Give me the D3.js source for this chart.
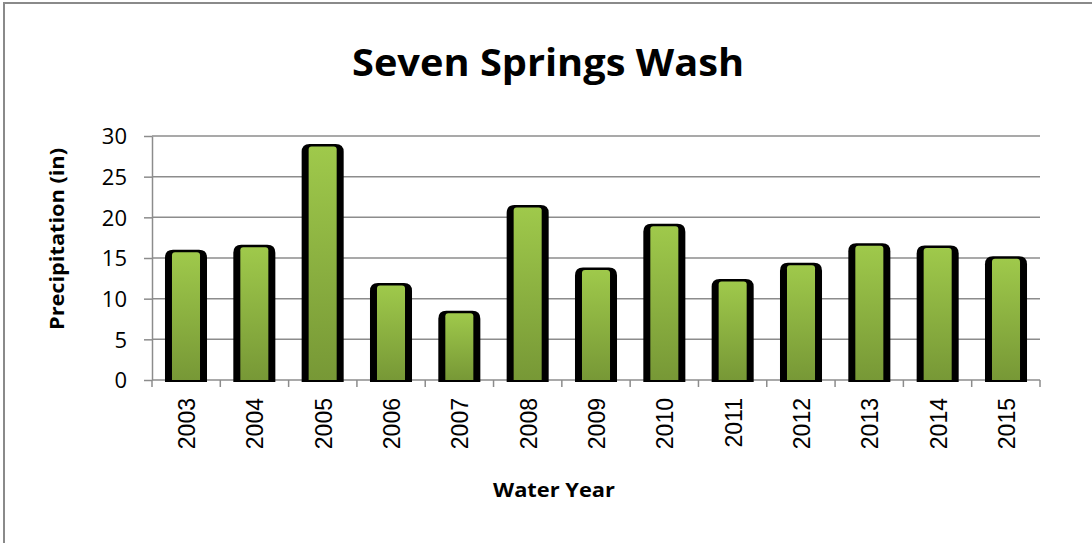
<!DOCTYPE html>
<html>
<head>
<meta charset="utf-8">
<script src="https://cdn.jsdelivr.net/npm/d3@7"></script>
<style>
  body { margin: 0; background: #fff; }
  .y-axis text { font-family: 'Open Sans', sans-serif; font-size: 22px; fill: #000; }
  .x-axis text { font-family: 'Liberation Sans', Arial, sans-serif; font-size: 23px; fill: #000; }
  .axis path, .axis line { stroke: #8c8c8c; stroke-width: 1.5; }
  .grid line { stroke: #8c8c8c; stroke-width: 1.5; }
</style>
</head>
<body>
<svg id="chart"></svg>
<script>
// Water years and precipitation (inches)
const years = ['2003', '2004', '2005', '2006', '2007', '2008', '2009',
               '2010', '2011', '2012', '2013', '2014', '2015'];
const precip = [15.9, 16.5, 28.9, 11.8, 8.4, 21.4, 13.7, 19.1, 12.3, 14.3, 16.7, 16.4, 15.1];
const yTicks = [0, 5, 10, 15, 20, 25, 30];

const data = years.map((y, i) => ({ year: y, value: precip[i] }));

const containerWidth = 1092, containerHeight = 543;
const margin = { top: 136, right: 52, bottom: 163, left: 152 };
const width = containerWidth - margin.left - margin.right;
const height = containerHeight - margin.top - margin.bottom;

const svg = d3.select('#chart')
    .attr('width', containerWidth)
    .attr('height', containerHeight);

// outer chart border (only top/left visible in the crop)
svg.append('rect')
    .attr('x', 4).attr('y', 3)
    .attr('width', containerWidth + 10).attr('height', containerHeight + 10)
    .attr('fill', 'none')
    .attr('stroke', '#8a8a8a')
    .attr('stroke-width', 2);

const defs = svg.append('defs');
const grad = defs.append('linearGradient')
    .attr('id', 'barGrad')
    .attr('x1', 0).attr('y1', 0).attr('x2', 0).attr('y2', 1);
grad.append('stop').attr('offset', '0%').attr('stop-color', '#9fc94b');
grad.append('stop').attr('offset', '100%').attr('stop-color', '#779836');

const chart = svg.append('g')
    .attr('transform', `translate(${margin.left},${margin.top})`);

const xScale = d3.scaleBand()
    .domain(years)
    .range([0, width])
    .paddingInner(0.385)
    .paddingOuter(0.19);

const xBand = d3.scaleBand().domain(years).range([0, width]);

const yScale = d3.scaleLinear()
    .domain([0, 30])
    .range([height, 0]);

// gridlines
chart.append('g')
    .attr('class', 'grid')
    .selectAll('line')
    .data(yTicks.filter(d => d > 0))
  .join('line')
    .attr('x1', 0).attr('x2', width)
    .attr('y1', d => yScale(d)).attr('y2', d => yScale(d));

// y axis
const yAxis = d3.axisLeft(yScale)
    .tickValues(yTicks)
    .tickSize(8)
    .tickSizeOuter(0)
    .tickPadding(17);
chart.append('g')
    .attr('class', 'axis y-axis')
    .call(yAxis)
    .selectAll('text').attr('dy', '0.36em');

// x axis: ticks at band boundaries
const xAxisG = chart.append('g')
    .attr('class', 'axis x-axis')
    .attr('transform', `translate(0,${height})`);
xAxisG.append('line')
    .attr('x1', 0).attr('x2', width);
xAxisG.selectAll('.tick-b')
    .data(years.concat(['end']))
  .join('line')
    .attr('class', 'tick-b')
    .attr('x1', (d, i) => i * xBand.step())
    .attr('x2', (d, i) => i * xBand.step())
    .attr('y1', 0).attr('y2', 7);
xAxisG.selectAll('text')
    .data(years)
  .join('text')
    .attr('transform', d => `translate(${xBand(d) + xBand.bandwidth() / 2 + 9},18) rotate(-90)`)
    .attr('text-anchor', 'end')
    .text(d => d);

// bars: black body with rounded top, green gradient face on top
const bw = xScale.bandwidth();
const bars = chart.selectAll('.bar')
    .data(data)
  .join('g')
    .attr('class', 'bar')
    .attr('transform', d => `translate(${xScale(d.year)},0)`);

function topRounded(w, h, r) {
  r = Math.min(r, h);
  return `M0,${h} V${r} Q0,0 ${r},0 H${w - r} Q${w},0 ${w},${r} V${h} Z`;
}

bars.append('path')
    .attr('transform', d => `translate(0,${yScale(d.value) - 1})`)
    .attr('d', d => topRounded(bw, height - yScale(d.value) + 3, 8))
    .attr('fill', '#000');

bars.append('path')
    .attr('transform', d => `translate(7,${yScale(d.value) + 1.5})`)
    .attr('d', d => topRounded(bw - 14, height - yScale(d.value) - 1.5, 3))
    .attr('fill', 'url(#barGrad)');

// titles
svg.append('text')
    .attr('x', 548).attr('y', 76)
    .attr('text-anchor', 'middle')
    .attr('font-family', "'Open Sans', sans-serif")
    .attr('font-weight', 'bold')
    .attr('font-size', 37)
    .attr('textLength', 392)
    .attr('lengthAdjust', 'spacingAndGlyphs')
    .text('Seven Springs Wash');

svg.append('text')
    .attr('x', 554).attr('y', 497)
    .attr('text-anchor', 'middle')
    .attr('font-family', "'Open Sans', sans-serif")
    .attr('font-weight', 'bold')
    .attr('font-size', 20)
    .attr('textLength', 122)
    .attr('lengthAdjust', 'spacingAndGlyphs')
    .text('Water Year');

svg.append('text')
    .attr('transform', 'translate(64,239) rotate(-90)')
    .attr('text-anchor', 'middle')
    .attr('font-family', "'Open Sans', sans-serif")
    .attr('font-weight', 'bold')
    .attr('font-size', 20)
    .attr('textLength', 182)
    .attr('lengthAdjust', 'spacingAndGlyphs')
    .text('Precipitation (in)');
</script>
</body>
</html>
